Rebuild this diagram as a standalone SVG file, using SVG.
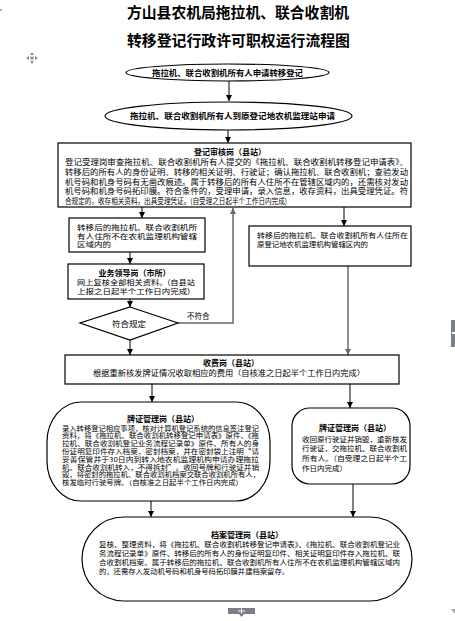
<svg xmlns="http://www.w3.org/2000/svg" width="455" height="621" viewBox="0 0 455 621">
<defs>
<style>
text{font-family:"Noto Sans CJK SC","Noto Sans CJK TC",sans-serif;fill:#000}
.t{font-size:15px;font-weight:bold}
.h{font-size:8px;font-weight:bold}
.b{font-size:7.5px}
.m{font-size:7.1px}
.s{font-size:7px}
.xs{font-size:6.4px}
.shape{fill:#fff;stroke:#000;stroke-width:1.2}
.ln{fill:none;stroke:#000;stroke-width:1}
.gl{fill:none;stroke:#6a6a6a;stroke-width:1.5}
.ui{fill:#7a7f86}
</style>
<marker id="ah" viewBox="0 0 10 10" refX="10" refY="5" markerWidth="6" markerHeight="6" markerUnits="userSpaceOnUse" orient="auto">
<path d="M0,0 L10,5 L0,10 z" fill="#000"/>
</marker>
<marker id="ahg" viewBox="0 0 10 10" refX="10" refY="5" markerWidth="6" markerHeight="6" markerUnits="userSpaceOnUse" orient="auto">
<path d="M0,0 L10,5 L0,10 z" fill="#6a6a6a"/>
</marker>
</defs>

<rect width="455" height="621" fill="#fff"/>

<g id="title">
<text class="t" x="238" y="18" text-anchor="middle" textLength="222" lengthAdjust="spacingAndGlyphs">方山县农机局拖拉机、联合收割机</text>
<text class="t" x="238.5" y="46" text-anchor="middle" textLength="223" lengthAdjust="spacingAndGlyphs">转移登记行政许可职权运行流程图</text>
</g>

<g id="connectors">
<line class="ln" x1="229" y1="81" x2="229" y2="101" marker-end="url(#ah)"/>
<line class="ln" x1="228" y1="130" x2="228" y2="143" marker-end="url(#ah)"/>
<line class="ln" x1="142" y1="207" x2="142" y2="218" marker-end="url(#ah)"/>
<line class="ln" x1="344" y1="207" x2="344" y2="226" marker-end="url(#ah)"/>
<line class="ln" x1="130" y1="252" x2="130" y2="264" marker-end="url(#ah)"/>
<line class="ln" x1="130" y1="299" x2="130" y2="307" marker-end="url(#ah)"/>
<polyline class="gl" points="178,323 233,323 233,208" marker-end="url(#ahg)"/>
<line class="ln" x1="130" y1="340" x2="130" y2="355" marker-end="url(#ah)"/>
<line class="gl" x1="348" y1="266" x2="348" y2="355" marker-end="url(#ahg)"/>
<line class="ln" x1="152" y1="384" x2="152" y2="402" marker-end="url(#ah)"/>
<line class="ln" x1="350" y1="384" x2="350" y2="408" marker-end="url(#ah)"/>
<line class="ln" x1="151" y1="501" x2="151" y2="517" marker-end="url(#ah)"/>
<line class="ln" x1="353" y1="484" x2="353" y2="517" marker-end="url(#ah)"/>
<text class="b" x="187" y="319">不符合</text>
</g>

<g id="n-apply">
<ellipse class="shape" cx="227.5" cy="72.5" rx="101.5" ry="8.5"/>
<text class="h" x="227.5" y="75.5" text-anchor="middle" textLength="151" lengthAdjust="spacingAndGlyphs">拖拉机、联合收割机所有人申请转移登记</text>
</g>

<g id="n-apply2">
<ellipse class="shape" cx="228.5" cy="116" rx="123.5" ry="14"/>
<text class="h" x="232.5" y="119" text-anchor="middle" textLength="205" lengthAdjust="spacingAndGlyphs">拖拉机、联合收割机所有人到原登记地农机监理站申请</text>
</g>

<g id="n-review">
<rect class="shape" x="58" y="143" width="353" height="64"/>
<text class="h" x="230" y="155" text-anchor="middle">登记审核岗（县站）</text>
<text class="b" x="65" y="165" textLength="343" lengthAdjust="spacingAndGlyphs">登记受理岗审查拖拉机、联合收割机所有人提交的《拖拉机、联合收割机转移登记申请表》、</text>
<text class="b" x="65" y="174.5" textLength="343" lengthAdjust="spacingAndGlyphs">转移后的所有人的身份证明、转移的相关证明、行驶证；确认拖拉机、联合收割机；查验发动</text>
<text class="b" x="65" y="184.5" textLength="343" lengthAdjust="spacingAndGlyphs">机号码和机身号码有无凿改痕迹。属于转移后的所有人住所不在管辖区域内的，还需核对发动</text>
<text class="b" x="65" y="194" textLength="343" lengthAdjust="spacingAndGlyphs">机号码和机身号码拓印膜。符合条件的，受理申请，录入信息，收存资料，出具受理凭证。符</text>
<text class="b" x="65" y="203.5" textLength="222" lengthAdjust="spacingAndGlyphs">合规定的，收存相关资料，出具受理凭证。(自受理之日起半个工作日内完成)</text>
</g>

<g id="n-outside">
<rect class="shape" x="69" y="218" width="136" height="34"/>
<text class="s" x="77" y="230" textLength="120" lengthAdjust="spacingAndGlyphs">转移后的拖拉机、联合收割机所</text>
<text class="s" x="77" y="238.5" textLength="120" lengthAdjust="spacingAndGlyphs">有人住所不在农机监理机构管辖</text>
<text class="s" x="77" y="247" textLength="34" lengthAdjust="spacingAndGlyphs">区域内的</text>
</g>

<g id="n-leader">
<rect class="shape" x="68" y="264" width="136" height="35"/>
<text class="h" x="134.5" y="276" text-anchor="middle">业务领导岗（市所）</text>
<text class="s" x="77" y="285" textLength="118" lengthAdjust="spacingAndGlyphs">网上复核全部相关资料。(自县站</text>
<text class="s" x="77" y="294" textLength="113" lengthAdjust="spacingAndGlyphs">上报之日起半个工作日内完成)</text>
</g>

<g id="n-check">
<polygon class="shape" points="130,307 178,323 130,340 80,323"/>
<text class="b" x="129" y="326.5" text-anchor="middle" textLength="34" lengthAdjust="spacingAndGlyphs">符合规定</text>
</g>

<g id="n-inside">
<rect class="shape" x="249" y="226" width="162" height="40"/>
<text class="s" x="257" y="238" textLength="151" lengthAdjust="spacingAndGlyphs">转移后的拖拉机、联合收割机所有人住所在</text>
<text class="s" x="257" y="247" textLength="111" lengthAdjust="spacingAndGlyphs">原登记地农机监理机构管辖区内的</text>
</g>

<g id="n-fee">
<rect class="shape" x="65" y="355" width="334" height="29"/>
<text class="h" x="231" y="366" text-anchor="middle">收费岗（县站）</text>
<text class="b" x="93" y="376" textLength="272" lengthAdjust="spacingAndGlyphs">根据重新核发牌证情况收取相应的费用（自核准之日起半个工作日内完成）</text>
</g>

<g id="n-plate-out">
<rect class="shape" x="47" y="402" width="223" height="99" rx="34" ry="40"/>
<text class="h" x="163" y="422" text-anchor="middle">牌证管理岗（县站）</text>
<text class="xs" x="62" y="430.5" textLength="197" lengthAdjust="spacingAndGlyphs">录入转移登记相应事项，核对计算机登记系统的信息签注登记</text>
<text class="xs" x="62" y="438.3" textLength="197" lengthAdjust="spacingAndGlyphs">资料，将《拖拉机、联合收割机转移登记申请表》原件、《拖</text>
<text class="xs" x="62" y="446.1" textLength="197" lengthAdjust="spacingAndGlyphs">拉机、联合收割机登记业务流程记录单》原件、所有人的身</text>
<text class="xs" x="62" y="453.9" textLength="197" lengthAdjust="spacingAndGlyphs">份证明复印件存入档案，密封档案，并在密封袋上注明“请</text>
<text class="xs" x="62" y="461.7" textLength="197" lengthAdjust="spacingAndGlyphs">妥善保管并于30日内到转入地农机监理机构申请办理拖拉</text>
<text class="xs" x="62" y="469.5" textLength="197" lengthAdjust="spacingAndGlyphs">机、联合收割机转入，不得拆封”。收回号牌和行驶证并销</text>
<text class="xs" x="62" y="477.3" textLength="198" lengthAdjust="spacingAndGlyphs">毁，将密封的拖拉机、联合收割机档案交联合收割机所有人，</text>
<text class="xs" x="62" y="485.1" textLength="181" lengthAdjust="spacingAndGlyphs">核发临时行驶号牌。（自核准之日起半个工作日内完成）</text>
</g>

<g id="n-plate-in">
<rect class="shape" x="292" y="408" width="118" height="76" rx="18" ry="18"/>
<text class="h" x="355" y="431" text-anchor="middle">牌证管理岗（县站）</text>
<text class="m" x="302" y="441.5" textLength="105" lengthAdjust="spacingAndGlyphs">收回原行驶证并销毁，重新核发</text>
<text class="m" x="302" y="451.2" textLength="105" lengthAdjust="spacingAndGlyphs">行驶证，交拖拉机、联合收割机</text>
<text class="m" x="302" y="460.9" textLength="105" lengthAdjust="spacingAndGlyphs">所有人。（自受理之日起半个工</text>
<text class="m" x="302" y="470.6" textLength="45" lengthAdjust="spacingAndGlyphs">作日内完成）</text>
</g>

<g id="n-archive">
<rect class="shape" x="82" y="517" width="330" height="84" rx="42" ry="42"/>
<text class="h" x="247" y="538" text-anchor="middle">档案管理岗（县站）</text>
<text class="s" x="99" y="547" textLength="301" lengthAdjust="spacingAndGlyphs">复核、整理资料，将《拖拉机、联合收割机转移登记申请表》、《拖拉机、联合收割机登记业</text>
<text class="s" x="99" y="556" textLength="301" lengthAdjust="spacingAndGlyphs">务流程记录单》原件、转移后的所有人的身份证明复印件、相关证明复印件存入拖拉机、联</text>
<text class="s" x="99" y="565" textLength="301" lengthAdjust="spacingAndGlyphs">合收割机档案。属于转移后的拖拉机、联合收割机所有人住所不在农机监理机构管辖区域内</text>
<text class="s" x="99" y="574" textLength="190" lengthAdjust="spacingAndGlyphs">的，还需存入发动机号码和机身号码拓印膜并建档案留存。</text>
</g>

<g id="ui-marks">
<polygon class="ui" points="0,9 3,9 0,12" opacity="0.6"/>
<g transform="translate(32,58)" fill="#8a8f96">
<polygon points="0,-6 2,-3 -2,-3"/><polygon points="0,6 2,3 -2,3"/>
<polygon points="-6,0 -3,-2 -3,2"/><polygon points="6,0 3,-2 3,2"/>
<rect x="-1.5" y="-1.5" width="3" height="3"/>
</g>
<polygon class="ui" points="228,608 255,608 255,614 244,614 241.5,617 239,614 228,614"/>
<line x1="238" y1="611" x2="245" y2="611" stroke="#fff" stroke-width="1"/>
<line x1="241.5" y1="608.5" x2="241.5" y2="613.5" stroke="#fff" stroke-width="1"/>
<rect class="ui" x="451" y="320" width="4" height="27"/>
<rect x="452" y="332" width="3" height="2" fill="#fff"/>
<polygon class="ui" points="451,609 455,609 455,614" opacity="0.7"/>
</g>
</svg>
